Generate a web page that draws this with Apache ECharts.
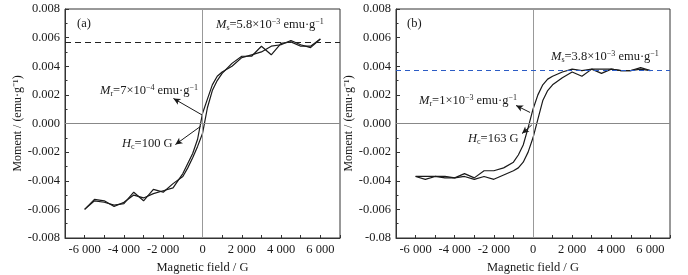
<!DOCTYPE html>
<html>
<head>
<meta charset="utf-8">
<script src="https://cdn.jsdelivr.net/npm/echarts@6/dist/echarts.min.js"></script>
<style>
  html, body { margin: 0; padding: 0; background: #fff; }
  #chart { width: 688px; height: 275px; }
</style>
</head>
<body>
<div id="chart"></div>
<script>
// field values (G), shared by both branches
const fieldA = [-6000, -5500, -5000, -4500, -4000, -3500, -3000, -2500, -2000, -1500, -1000, -750, -500, -250, 0, 250, 500, 750, 1000, 1500, 2000, 2500, 3000, 3500, 4000, 4500, 5000, 5500, 6000]
const ascendA = [-0.0060, -0.0054, -0.0055, -0.0057, -0.0056, -0.0048, -0.0054, -0.0046, -0.0048, -0.0042, -0.0037, -0.0031, -0.0024, -0.0016, -0.0007, 0.0011, 0.0023, 0.0030, 0.0035, 0.0042, 0.0047, 0.0047, 0.0054, 0.0048, 0.0056, 0.0057, 0.0054, 0.0054, 0.0059]
const descendA = [-0.0060, -0.0053, -0.0054, -0.0058, -0.0055, -0.0050, -0.0052, -0.0049, -0.0047, -0.0045, -0.0035, -0.0028, -0.0021, -0.0011, 0.0007, 0.0017, 0.0027, 0.0033, 0.0036, 0.0040, 0.0046, 0.0048, 0.0050, 0.0054, 0.0055, 0.0058, 0.0055, 0.0053, 0.0059]

const fieldB = fieldA
const ascendB = [-0.0037, -0.0039, -0.0037, -0.0038, -0.0038, -0.0037, -0.0039, -0.0037, -0.0039, -0.0036, -0.0033, -0.0031, -0.0027, -0.0020, -0.0010, 0.0003, 0.0016, 0.0023, 0.0027, 0.0032, 0.0036, 0.0033, 0.0038, 0.0035, 0.0038, 0.0037, 0.0037, 0.0038, 0.0037]
const descendB = [-0.0037, -0.0037, -0.0037, -0.0037, -0.0038, -0.0035, -0.0038, -0.0033, -0.0033, -0.0031, -0.0027, -0.0022, -0.0015, -0.0003, 0.0010, 0.0020, 0.0027, 0.0031, 0.0033, 0.0036, 0.0038, 0.0037, 0.0038, 0.0038, 0.0038, 0.0037, 0.0037, 0.0039, 0.0037]

const msA = 0.0057
const msB = 0.0037

// annotation arrows [from curve, to label] in data units
const arrowMrA = [[-25, 0.0006], [-1480, 0.00175]]
const arrowHcA = [[-100, -0.0002], [-1380, -0.00147]]
const arrowMrB = [[-150, 0.00077], [-865, 0.00126]]
const arrowHcB = [[-60, -0.0001], [-560, -0.0007]]

const xTickValues = [-6000, -4000, -2000, 0, 2000, 4000, 6000]
const xTickLabels = ['-6 000', '-4 000', '-2 000', '0', '2 000', '4 000', '6 000']
const yLabelsA = ['-0.008', '-0.006', '-0.004', '-0.002', '0.000', '0.002', '0.004', '0.006', '0.008']
const yLabelsB = ['-0.08', '-0.006', '-0.004', '-0.002', '0.000', '0.002', '0.004', '0.006', '0.008']

const serif = '"Liberation Serif", "Times New Roman", serif'
const ink = '#1a1a1a'

const pairs = (xs, ys) => xs.map((x, i) => [x, ys[i]])

const xAxisFor = (gridIndex) => ({
  gridIndex,
  type: 'value',
  min: -7000,
  max: 7000,
  interval: 1000,
  name: 'Magnetic field / G',
  nameLocation: 'middle',
  nameGap: 19,
  nameTextStyle: { fontFamily: serif, fontSize: 12.5, color: ink },
  axisLine: { onZero: false, lineStyle: { color: '#333', width: 1 } },
  axisTick: { inside: true, length: 3, lineStyle: { color: '#333' } },
  axisLabel: {
    customValues: xTickValues,
    fontFamily: serif, fontSize: 12.5, color: ink, margin: 5,
    formatter: (v) => xTickLabels[xTickValues.indexOf(v)]
  },
  splitLine: { show: false }
})

const yAxisFor = (gridIndex, labels, gap) => ({
  gridIndex,
  type: 'value',
  min: -0.008,
  max: 0.008,
  interval: 0.002,
  name: 'Moment / (emu·g⁻¹)',
  nameLocation: 'middle',
  nameGap: gap,
  nameTextStyle: { fontFamily: serif, fontSize: 12, color: ink },
  axisLine: { onZero: false, lineStyle: { color: '#333', width: 1 } },
  axisTick: { inside: true, length: 4, lineStyle: { color: '#333' } },
  minorTick: { show: true, splitNumber: 2, length: 2.5, lineStyle: { color: '#333' } },
  axisLabel: {
    fontFamily: serif, fontSize: 12.5, color: ink, margin: 5,
    formatter: (v) => labels[Math.round((v + 0.008) / 0.002)]
  },
  splitLine: { show: false }
})

const refLines = (ms, msColor, msDash) => ({
  silent: true,
  symbol: 'none',
  precision: 5,
  label: { show: false },
  animation: false,
  data: [
    { xAxis: 0, lineStyle: { color: '#999', width: 1, type: 'solid' } },
    { yAxis: 0, lineStyle: { color: '#888', width: 1, type: 'solid' } },
    { yAxis: ms, lineStyle: { color: msColor, width: 1.2, type: msDash } }
  ]
})

const arrows = (list) => ({
  silent: true,
  symbol: ['none', 'arrow'],
  symbolSize: [5, 7],
  precision: 5,
  label: { show: false },
  lineStyle: { color: ink, width: 1, type: 'solid' },
  data: list.map((a) => [{ coord: a[0] }, { coord: a[1] }])
})

const branch = (name, idx, data) => ({
  name,
  type: 'line',
  xAxisIndex: idx,
  yAxisIndex: idx,
  data,
  showSymbol: false,
  smooth: false,
  lineStyle: { color: ink, width: 1.2 },
  itemStyle: { color: ink }
})

const rich = {
  i: { fontFamily: serif, fontStyle: 'italic', fontSize: 12.5, fill: ink, lineHeight: 14 },
  sub: { fontFamily: serif, fontSize: 8, fill: ink, lineHeight: 8, verticalAlign: 'bottom' },
  sup: { fontFamily: serif, fontSize: 8, fill: ink, lineHeight: 8, verticalAlign: 'top' },
  t: { fontFamily: serif, fontSize: 12.5, fill: ink, lineHeight: 14 }
}

const label = (x, y, text) => ({
  type: 'text',
  x, y,
  silent: true,
  style: { text, rich, font: '12px ' + serif, fill: ink, verticalAlign: 'middle' }
})

const chart = echarts.init(document.getElementById('chart'), null, { renderer: 'canvas' })

chart.setOption({
  animation: false,
  backgroundColor: '#fff',
  grid: [
    { left: 65, top: 9, width: 275, height: 229, outerBoundsMode: 'none', show: true, borderColor: '#333', borderWidth: 1, backgroundColor: 'transparent' },
    { left: 396, top: 9, width: 274, height: 229, outerBoundsMode: 'none', show: true, borderColor: '#333', borderWidth: 1, backgroundColor: 'transparent' }
  ],
  xAxis: [xAxisFor(0), xAxisFor(1)],
  yAxis: [yAxisFor(0, yLabelsA, 40), yAxisFor(1, yLabelsB, 38)],
  series: [
    Object.assign(branch('a-asc', 0, pairs(fieldA, ascendA)), { markLine: refLines(msA, '#222', [6, 4]) }),
    Object.assign(branch('a-desc', 0, pairs(fieldA, descendA)), { markLine: arrows([arrowMrA, arrowHcA]) }),
    Object.assign(branch('b-asc', 1, pairs(fieldB, ascendB)), { markLine: refLines(msB, '#2c5cc5', [5, 4]) }),
    Object.assign(branch('b-desc', 1, pairs(fieldB, descendB)), { markLine: arrows([arrowMrB, arrowHcB]) })
  ],
  graphic: [
    label(77, 24, '{t|(a)}'),
    label(216, 25, '{i|M}{sub|s}{t|=5.8×10}{sup|−3}{t| emu·g}{sup|−1}'),
    label(100, 91, '{i|M}{sub|r}{t|=7×10}{sup|−4}{t| emu·g}{sup|−1}'),
    label(122, 144, '{i|H}{sub|c}{t|=100 G}'),
    label(407, 24, '{t|(b)}'),
    label(551, 57, '{i|M}{sub|s}{t|=3.8×10}{sup|−3}{t| emu·g}{sup|−1}'),
    label(419, 101, '{i|M}{sub|r}{t|=1×10}{sup|−3}{t| emu·g}{sup|−1}'),
    label(468, 139, '{i|H}{sub|c}{t|=163 G}')
  ]
})

window.addEventListener('resize', () => {
  chart.resize()
})
</script>
</body>
</html>
